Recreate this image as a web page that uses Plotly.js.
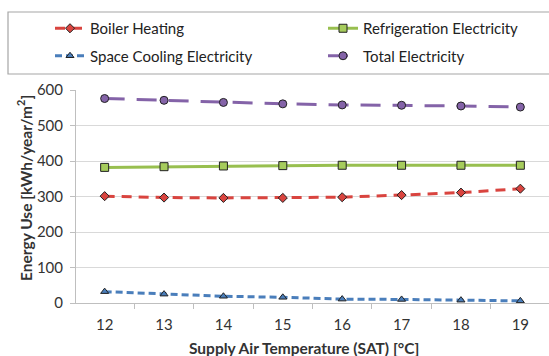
<!DOCTYPE html>
<html>
<head>
<meta charset="utf-8">
<script src="https://cdn.plot.ly/plotly-3.0.1.min.js"></script>
<style>html,body{margin:0;padding:0;background:#fff;}#chart{width:549px;height:356px;}</style>
</head>
<body>
<div id="chart"></div>
<script>
var categories = ["12", "13", "14", "15", "16", "17", "18", "19"];
var boilerHeating = [301, 297, 296, 296, 298, 304, 311, 322];
var refrigerationElectricity = [382, 384, 386, 387, 388, 388, 388, 388];
var spaceCoolingElectricity = [32, 25, 19, 16, 11, 10, 8, 6];
var totalElectricity = [576, 571, 565, 561, 558, 557, 555, 552];
var yTicks = [0, 100, 200, 300, 400, 500, 600];
var xTitle = "Supply Air Temperature (SAT) [°C]";
var yTitle = "Energy Use [kWh/year/m<sup>2</sup>]";

var FONT = "Lato, 'Open Sans', sans-serif";

var traces = [
  {name: "Boiler Heating", x: categories, y: boilerHeating, type: "scatter", mode: "lines+markers",
   line: {color: "#d9443f", width: 3, dash: "10px,7px"},
   marker: {symbol: "diamond", size: 7, color: "#d9443f", line: {color: "#222", width: 1}},
   legend: "legend", legendgroup: "a"},
  {name: "Space Cooling Electricity", x: categories, y: spaceCoolingElectricity, type: "scatter", mode: "lines+markers",
   line: {color: "#4a7ebb", width: 3, dash: "7px,4px"},
   marker: {symbol: "triangle-up", size: 7, color: "#4a7ebb", line: {color: "#222", width: 1}},
   legend: "legend", legendgroup: "b"},
  {name: "Refrigeration Electricity", x: categories, y: refrigerationElectricity, type: "scatter", mode: "lines+markers",
   line: {color: "#98bf4f", width: 3},
   marker: {symbol: "square", size: 8, color: "#a6cc5c", line: {color: "#222", width: 1}},
   legend: "legend2", legendgroup: "c"},
  {name: "Total Electricity", x: categories, y: totalElectricity, type: "scatter", mode: "lines+markers",
   line: {color: "#8463a8", width: 3, dash: "20px,12px"},
   marker: {symbol: "circle", size: 8, color: "#8463a8", line: {color: "#222", width: 1}},
   legend: "legend2", legendgroup: "d"}
];

var layout = {
  width: 549, height: 356,
  margin: {l: 76, r: 0, t: 90, b: 53, autoexpand: false},
  paper_bgcolor: "#fff", plot_bgcolor: "#fff",
  font: {family: FONT, color: "#333", size: 13},
  showlegend: true,
  xaxis: {
    type: "category", tickson: "boundaries", ticks: "outside", ticklen: 5, tickcolor: "#bfbfbf",
    showline: true, linecolor: "#bfbfbf", linewidth: 1, showgrid: false, zeroline: false,
    tickangle: 0, automargin: false, ticklabelstandoff: 8,
    tickfont: {family: FONT, size: 15, color: "#333"}
  },
  yaxis: {
    range: [0, 600], tickvals: yTicks, ticks: "outside", ticklen: 5, tickcolor: "#bfbfbf",
    showline: true, linecolor: "#bfbfbf", linewidth: 1, gridcolor: "#d9d9d9", gridwidth: 1, zeroline: false,
    automargin: false, ticklabelstandoff: 4,
    tickfont: {family: FONT, size: 15, color: "#333"}
  },
  annotations: [
    {text: "<b>" + xTitle + "</b>", xref: "paper", yref: "paper", x: (304 - 76) / 473, y: -(348 - 303) / 213,
     xanchor: "center", yanchor: "middle", showarrow: false, font: {family: FONT, size: 15.5, color: "#333"}},
    {text: "<b>" + yTitle + "</b>", xref: "paper", yref: "paper", x: -(76 - 24) / 473, y: (303 - 188) / 213,
     xanchor: "center", yanchor: "middle", showarrow: false, textangle: -90, font: {family: FONT, size: 15.5, color: "#333"}}
  ],
  legend: {x: 50/549, xanchor: "left", y: 1 - 12/356, yanchor: "top", yref: "container", xref: "container",
    orientation: "v", tracegroupgap: 5, font: {family: FONT, size: 15, color: "#222"},
    bgcolor: "rgba(0,0,0,0)", borderwidth: 0, itemwidth: 30},
  legend2: {x: 323/549, xanchor: "left", y: 1 - 12/356, yanchor: "top", yref: "container", xref: "container",
    orientation: "v", tracegroupgap: 5, font: {family: FONT, size: 15, color: "#222"},
    bgcolor: "rgba(0,0,0,0)", borderwidth: 0, itemwidth: 30},
  shapes: [{type: "rect", xref: "paper", yref: "paper",
    x0: (8 - 76) / 473, x1: 1.01, y0: 1 + (90 - 74) / 213, y1: 1 + (90 - 12) / 213,
    line: {color: "#a6a6a6", width: 1.2}, fillcolor: "rgba(0,0,0,0)"}]
};

Plotly.newPlot("chart", traces, layout, {displayModeBar: false, staticPlot: true});
</script>
</body>
</html>
